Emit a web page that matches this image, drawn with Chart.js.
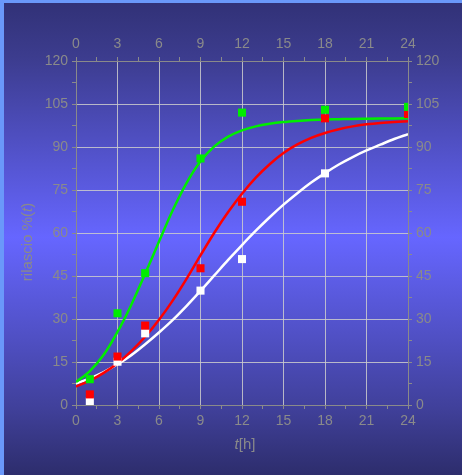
<!DOCTYPE html>
<html>
<head>
<meta charset="utf-8">
<script src="https://cdn.jsdelivr.net/npm/chart.js@4.4.1/dist/chart.umd.min.js"></script>
<style>
  html, body { margin: 0; padding: 0; background: #2f2f70; }
  #box { width: 462px; height: 475px; }
</style>
</head>
<body>
<div id="box"><canvas id="myChart" width="462" height="475"></canvas></div>
<script>
// ore dei campioni misurati
var ore = [1, 3, 5, 9, 12, 18, 24];
var verdePunti = [9.0, 32, 46, 86, 102, 103, 104];
var rossoPunti = [3.7, 16.9, 27.7, 47.7, 70.9, 100, 101.5];
var biancoPunti = [1.2, 15.1, 25.0, 39.9, 50.9, 80.8];

// curve di fit, lette ogni ora
var oreCurva = [0,1,2,3,4,5,6,7,8,9,10,11,12,13,14,15,16,17,18,19,20,21,22,23,24];
var verdeCurva = [8, 11.8, 17.5, 25.5, 35, 45.8, 57, 68, 77.5, 85, 90.2, 93.6, 95.8, 97.2, 98.1, 98.7, 99.1, 99.4, 99.6, 99.7, 99.8, 99.85, 99.9, 99.95, 100];
var rossoCurva = [6.4, 8.5, 11.2, 14.6, 18.8, 23.8, 29.7, 36.5, 44.1, 52.2, 60.1, 67.3, 73.7, 79.3, 84.0, 87.9, 90.9, 93.2, 94.9, 96.2, 97.2, 97.9, 98.4, 98.75, 99.0];
var biancoCurva = [7.5, 9.3, 11.5, 14.2, 17.4, 21.2, 25.3, 29.7, 34.6, 39.8, 45.2, 50.6, 55.8, 60.8, 65.5, 69.9, 73.9, 77.6, 80.9, 83.9, 86.5, 88.8, 90.8, 92.8, 94.5];

var xTicks = [0, 3, 6, 9, 12, 15, 18, 21, 24];
var yTicks = [0, 15, 30, 45, 60, 75, 90, 105, 120];

function xy(xs, ys) {
  var out = [];
  for (var i = 0; i < ys.length; i++) out.push({x: xs[i], y: ys[i]});
  return out;
}

var grigio = '#8a8a8a';
var griglia = 'rgba(205,205,205,0.85)';

function isMajor(v, step) {
  var r = Math.abs(v / step - Math.round(v / step));
  return r < 1e-6;
}

var sfondo = {
  id: 'sfondo',
  beforeDraw: function(chart) {
    var c = chart.ctx;
    var w = chart.width, h = chart.height;
    var g = c.createLinearGradient(0, 0, 0, h);
    g.addColorStop(0, '#313176');
    g.addColorStop(0.12, '#3c3c8e');
    g.addColorStop(0.5, '#6666ff');
    g.addColorStop(0.86, '#40409a');
    g.addColorStop(1, '#2d2d6c');
    c.save();
    c.fillStyle = g;
    c.fillRect(0, 0, w, h);
    c.fillStyle = '#6a98fa';
    c.fillRect(0, 0, w, 3);
    c.fillRect(0, 0, 4, h);
    c.restore();
  },
  afterDraw: function(chart) {
    var c = chart.ctx;
    var a = chart.chartArea;
    c.save();
    c.fillStyle = grigio;
    c.textBaseline = 'middle';
    // titolo asse x: t[h]
    var it = 'italic 15px "Liberation Sans", Arial, sans-serif';
    var no = '15px "Liberation Sans", Arial, sans-serif';
    c.font = it; var w1 = c.measureText('t').width;
    c.font = no; var w2 = c.measureText('[h]').width;
    var cx = (a.left + a.right) / 2 + 3;
    var x0 = cx - (w1 + w2) / 2;
    c.textAlign = 'left';
    c.font = it; c.fillText('t', x0, 445);
    c.font = no; c.fillText('[h]', x0 + w1, 445);
    // titolo asse y: rilascio %(t)
    c.translate(28, 242);
    c.rotate(-Math.PI / 2);
    c.font = no; var a1 = c.measureText('rilascio %(').width;
    c.font = it; var a2 = c.measureText('t').width;
    c.font = no; var a3 = c.measureText(')').width;
    var s = -(a1 + a2 + a3) / 2;
    c.font = no; c.fillText('rilascio %(', s, 0);
    c.font = it; c.fillText('t', s + a1, 0);
    c.font = no; c.fillText(')', s + a1 + a2, 0);
    c.restore();
  }
};

function asse(pos, min, max, step, major, grid, fitSize) {
  var vertical = (pos === 'left' || pos === 'right');
  return {
    type: 'linear',
    position: pos,
    min: min,
    max: max,
    afterFit: function(scale) {
      if (vertical) scale.width = fitSize; else scale.height = fitSize;
    },
    border: { display: true, color: grigio, width: 1 },
    grid: {
      drawOnChartArea: grid,
      drawTicks: true,
      tickLength: 4,
      color: function(ctx) {
        return (ctx.tick && isMajor(ctx.tick.value, major)) ? griglia : 'rgba(0,0,0,0)';
      },
      tickColor: grigio,
      lineWidth: 1
    },
    ticks: {
      stepSize: step,
      autoSkip: false,
      maxRotation: 0,
      padding: 4,
      color: grigio,
      font: { family: '"Liberation Sans", Arial, sans-serif', size: 14 },
      callback: function(v) {
        return isMajor(v, major) ? String(Math.round(v)) : '';
      }
    }
  };
}

var ctx = document.getElementById('myChart');
var myChart = new Chart(ctx, {
  type: 'scatter',
  data: {
    datasets: [
      { label: 'verde pts', data: xy(ore, verdePunti), backgroundColor: '#00ee00', pointStyle: 'rect', pointRadius: 5.7, pointBorderWidth: 0, showLine: false, clip: 0, order: 1 },
      { label: 'rosso pts', data: xy(ore, rossoPunti), backgroundColor: '#ff0000', pointStyle: 'rect', pointRadius: 5.7, pointBorderWidth: 0, showLine: false, clip: 0, order: 2 },
      { label: 'bianco pts', data: xy(ore, biancoPunti), backgroundColor: '#ffffff', pointStyle: 'rect', pointRadius: 5.7, pointBorderWidth: 0, showLine: false, clip: 0, order: 3 },
      { label: 'verde', type: 'line', data: xy(oreCurva, verdeCurva), borderColor: '#00ee00', borderWidth: 2.5, pointRadius: 0, tension: 0.4, cubicInterpolationMode: 'monotone', fill: false, order: 4 },
      { label: 'rosso', type: 'line', data: xy(oreCurva, rossoCurva), borderColor: '#ff0000', borderWidth: 2.5, pointRadius: 0, tension: 0.4, cubicInterpolationMode: 'monotone', fill: false, order: 5 },
      { label: 'bianco', type: 'line', data: xy(oreCurva, biancoCurva), borderColor: '#ffffff', borderWidth: 2.5, pointRadius: 0, tension: 0.4, cubicInterpolationMode: 'monotone', fill: false, order: 6 }
    ]
  },
  options: {
    responsive: false,
    animation: false,
    layout: { padding: 0 },
    plugins: { legend: { display: false }, tooltip: { enabled: false } },
    scales: {
      x: asse('bottom', xTicks[0], xTicks[xTicks.length - 1], 1.5, 3, true, 70),
      x2: asse('top', xTicks[0], xTicks[xTicks.length - 1], 1.5, 3, false, 61),
      y: asse('left', yTicks[0], yTicks[yTicks.length - 1], 7.5, 15, true, 76),
      y2: asse('right', yTicks[0], yTicks[yTicks.length - 1], 7.5, 15, false, 54)
    }
  },
  plugins: [sfondo]
});
</script>
</body>
</html>
